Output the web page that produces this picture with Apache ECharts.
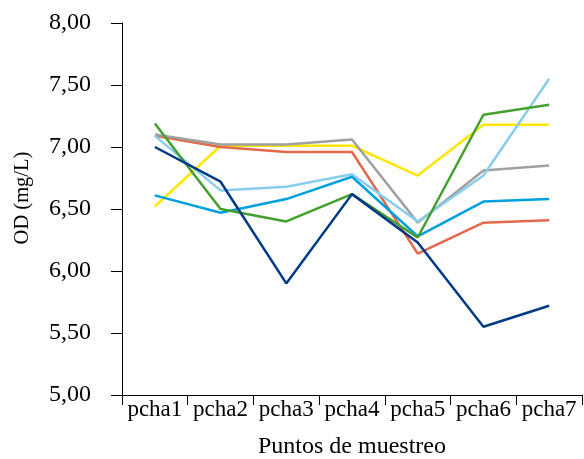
<!DOCTYPE html>
<html>
<head>
<meta charset="utf-8">
<script src="https://cdn.jsdelivr.net/npm/echarts@6/dist/echarts.min.js"></script>
<style>html,body{margin:0;padding:0;background:#fff}#c{width:584px;height:459px}</style>
</head>
<body>
<div id="c"></div>
<script>
const categories = ['pcha1','pcha2','pcha3','pcha4','pcha5','pcha6','pcha7'];
const yTicks = [5, 5.5, 6, 6.5, 7, 7.5, 8];
const yellowVals = [6.52, 7.01, 7.01, 7.01, 6.77, 7.18, 7.18];
const redVals    = [7.09, 7.00, 6.96, 6.96, 6.14, 6.39, 6.41];
const grayVals   = [7.10, 7.02, 7.02, 7.06, 6.39, 6.81, 6.85];
const lightBlueVals = [7.09, 6.65, 6.68, 6.78, 6.40, 6.77, 7.55];
const blueVals   = [6.61, 6.47, 6.58, 6.76, 6.28, 6.56, 6.58];
const greenVals  = [7.19, 6.50, 6.40, 6.62, 6.27, 7.26, 7.34];
const navyVals   = [7.00, 6.72, 5.90, 6.62, 6.23, 5.55, 5.72];

const seriesDefs = [
  {name:'s1', data: yellowVals, color:'#FFE600'},
  {name:'s2', data: redVals, color:'#E2694A'},
  {name:'s3', data: grayVals, color:'#A0A0A0'},
  {name:'s4', data: lightBlueVals, color:'#87CEEE'},
  {name:'s5', data: blueVals, color:'#00A0E0'},
  {name:'s6', data: greenVals, color:'#43A02F'},
  {name:'s7', data: navyVals, color:'#003A86'}
];

const font = 'Liberation Serif';
const chart = echarts.init(document.getElementById('c'), null, {renderer:'canvas'});
chart.setOption({
  animation: false,
  backgroundColor: '#fff',
  grid: {left: 122, right: 2, top: 23, bottom: 64, containLabel: false, outerBoundsMode: 'none'},
  xAxis: {
    type: 'category',
    data: categories,
    boundaryGap: true,
    name: 'Puntos de muestreo',
    nameLocation: 'middle',
    nameGap: 40,
    nameTextStyle: {fontFamily: font, fontSize: 24, color: '#000'},
    axisLine: {lineStyle: {color: '#000', width: 1}},
    axisTick: {show: true, length: 10, lineStyle: {color: '#000'}},
    axisLabel: {fontFamily: font, fontSize: 23, color: '#000', margin: 3, interval: 0}
  },
  yAxis: {
    type: 'value',
    min: yTicks[0],
    max: yTicks[yTicks.length - 1],
    interval: 0.5,
    name: 'OD (mg/L)',
    nameLocation: 'middle',
    nameGap: 89,
    nameTextStyle: {fontFamily: font, fontSize: 20.5, color: '#000', padding: [0, 0, 0, 22]},
    axisLine: {show: true, lineStyle: {color: '#000', width: 1}},
    axisTick: {show: true, length: 11, lineStyle: {color: '#000'}},
    splitLine: {show: false},
    axisLabel: {fontFamily: font, fontSize: 24, color: '#000', margin: 31,
      formatter: v => v.toFixed(2).replace('.', ',')}
  },
  series: seriesDefs.map(s => ({
    name: s.name, type: 'line', data: s.data, symbol: 'none',
    lineStyle: {color: s.color, width: 2.5}, itemStyle: {color: s.color}
  }))
});
</script>
</body>
</html>
